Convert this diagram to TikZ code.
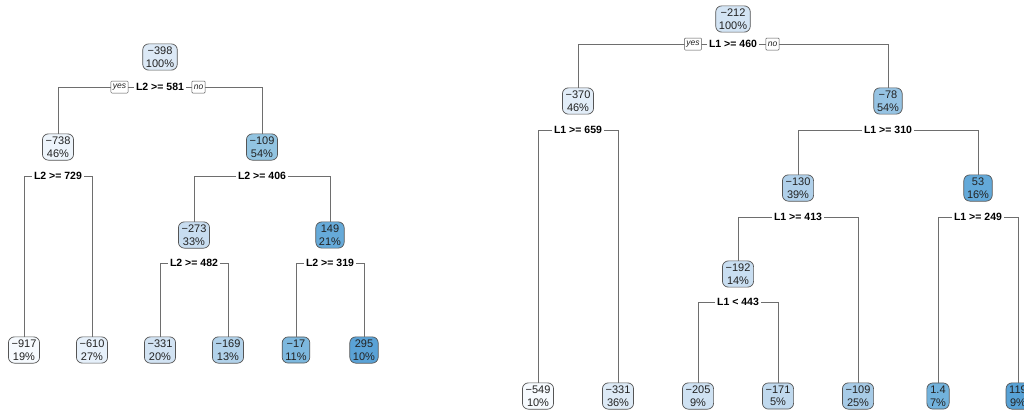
\documentclass[tikz,border=0pt]{standalone}
\usepackage{fontspec}
\setmainfont{Liberation Sans}
\definecolor{boxborder}{HTML}{555555}
\definecolor{linegray}{HTML}{6E6E6E}
\definecolor{txt}{HTML}{222222}
% left tree fills
\definecolor{cA}{HTML}{F6FAFE}
\definecolor{cB}{HTML}{EDF4FB}
\definecolor{cC}{HTML}{E6F0FA}
\definecolor{cD}{HTML}{DCE9F6}
\definecolor{cE}{HTML}{D2E3F3}
\definecolor{cF}{HTML}{C8DDF0}
\definecolor{cG}{HTML}{B2D2EA}
\definecolor{cH}{HTML}{92C4E1}
\definecolor{cI}{HTML}{7DB8DE}
\definecolor{cJ}{HTML}{66AAD9}
\definecolor{cK}{HTML}{5AA2D6}
% right tree fills
\definecolor{rA}{HTML}{F6FAFE}
\definecolor{rB}{HTML}{E2EDF8}
\definecolor{rC}{HTML}{DDEAF6}
\definecolor{rD}{HTML}{D3E4F4}
\definecolor{rE}{HTML}{CFE2F3}
\definecolor{rF}{HTML}{C9DEF1}
\definecolor{rG}{HTML}{C0D9EE}
\definecolor{rH}{HTML}{B0D0EA}
\definecolor{rI}{HTML}{A7CBE7}
\definecolor{rJ}{HTML}{96C3E3}
\definecolor{rK}{HTML}{72B2DC}
\definecolor{rL}{HTML}{63A9D9}
\definecolor{rM}{HTML}{58A2D6}
\begin{document}
\begin{tikzpicture}[x=1pt,y=-1pt,
  box/.style={draw=boxborder, line width=0.7pt, rounded corners=6pt, align=center,
    inner xsep=3.2pt, inner ysep=3pt, text=txt, font=\fontsize{11}{12.5}\selectfont},
  split/.style={fill=white, inner xsep=2pt, inner ysep=1pt, text=black,
    font=\fontsize{10.5}{12}\selectfont\bfseries},
  yn/.style={draw=boxborder, fill=white, line width=0.5pt, rounded corners=1pt,
    inner xsep=2pt, inner ysep=1pt, text=txt, minimum height=12pt,
    font=\fontsize{8.5}{9}\selectfont\itshape},
  edge/.style={draw=linegray, line width=0.7pt}]
\useasboundingbox (0,0) rectangle (1024,416);
\clip (0,0) rectangle (1024,416);
\fill[white] (0,0) rectangle (1024,416);

% ---------- left tree ----------
\node[box, fill=cD] (r1) at (160,57) {−398\\100\%};
\node[split] (s1) at (160,87) {L2 >= 581};
\node[box, fill=cB] (a) at (58,147) {−738\\46\%};
\node[split] (sa) at (58,176) {L2 >= 729};
\node[box, fill=cH] (b) at (262,147) {−109\\54\%};
\node[split] (sb) at (262,176) {L2 >= 406};
\node[box, fill=cF] (c) at (194,235) {−273\\33\%};
\node[split] (sc) at (194,263) {L2 >= 482};
\node[box, fill=cJ] (d) at (330,235) {149\\21\%};
\node[split] (sd) at (330,263) {L2 >= 319};
\node[box, fill=cA] (l1) at (24,350) {−917\\19\%};
\node[box, fill=cC] (l2) at (92,350) {−610\\27\%};
\node[box, fill=cE] (l3) at (160,350) {−331\\20\%};
\node[box, fill=cG] (l4) at (228,350) {−169\\13\%};
\node[box, fill=cI] (l5) at (296,350) {−17\\11\%};
\node[box, fill=cK] (l6) at (364,350) {295\\10\%};

\draw[edge] (s1.west) -| (a.north);
\draw[edge] (s1.east) -| (b.north);
\draw[edge] (sa.west) -| (l1.north);
\draw[edge] (sa.east) -| (l2.north);
\draw[edge] (sb.west) -| (c.north);
\draw[edge] (sb.east) -| (d.north);
\draw[edge] (sc.west) -| (l3.north);
\draw[edge] (sc.east) -| (l4.north);
\draw[edge] (sd.west) -| (l5.north);
\draw[edge] (sd.east) -| (l6.north);
\node[yn] (yes1) at (119.5,87) {yes};
\node[yn] (no1) at (198.5,87) {no};

% ---------- right tree ----------
\node[box, fill=rD] (R) at (733,19) {−212\\100\%};
\node[split] (S) at (733,44) {L1 >= 460};
\node[box, fill=rB] (A) at (578,101) {−370\\46\%};
\node[split] (SA) at (578,130) {L1 >= 659};
\node[box, fill=rJ] (B) at (888,101) {−78\\54\%};
\node[split] (SB) at (888,130) {L1 >= 310};
\node[box, fill=rH] (C) at (798,188) {−130\\39\%};
\node[split] (SC) at (798,217) {L1 >= 413};
\node[box, fill=rL] (D) at (978,188) {53\\16\%};
\node[split] (SD) at (978,217) {L1 >= 249};
\node[box, fill=rF] (E) at (738,274) {−192\\14\%};
\node[split] (SE) at (738,302) {L1 < 443};
\node[box, fill=rA] (m1) at (538,396) {−549\\10\%};
\node[box, fill=rC] (m2) at (618,396) {−331\\36\%};
\node[box, fill=rE] (m3) at (698,396) {−205\\9\%};
\node[box, fill=rG] (m4) at (778,396) {−171\\5\%};
\node[box, fill=rI] (m5) at (858,396) {−109\\25\%};
\node[box, fill=rK] (m6) at (938,396) {1.4\\7\%};
\node[box, fill=rM] (m7) at (1018,396) {119\\9\%};

\draw[edge] (S.west) -| (A.north);
\draw[edge] (S.east) -| (B.north);
\draw[edge] (SA.west) -| (m1.north);
\draw[edge] (SA.east) -| (m2.north);
\draw[edge] (SB.west) -| (C.north);
\draw[edge] (SB.east) -| (D.north);
\draw[edge] (SC.west) -| (E.north);
\draw[edge] (SC.east) -| (m5.north);
\draw[edge] (SD.west) -| (m6.north);
\draw[edge] (SD.east) -| (m7.north);
\draw[edge] (SE.west) -| (m3.north);
\draw[edge] (SE.east) -| (m4.north);
\node[yn] (yes2) at (693,44) {yes};
\node[yn] (no2) at (772.5,44) {no};
\end{tikzpicture}
\end{document}
